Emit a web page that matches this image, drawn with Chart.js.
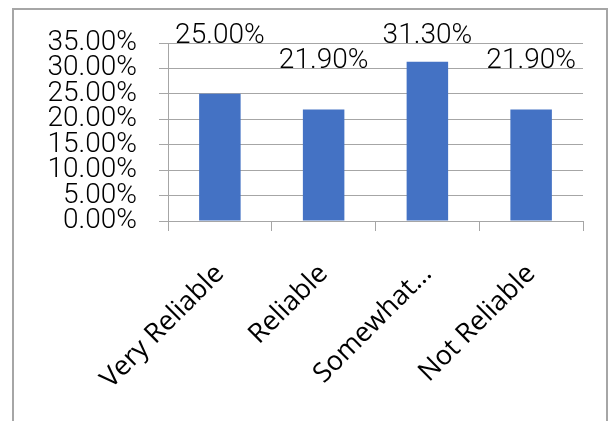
<!DOCTYPE html>
<html>
<head>
<meta charset="utf-8">
<script src="https://cdn.jsdelivr.net/npm/chart.js@4/dist/chart.umd.min.js"></script>
<style>
  html, body { margin: 0; padding: 0; background: #ffffff; }
  #frame { position: absolute; left: 12px; top: 8px; width: 592px; height: 500px; border: 2px solid #a6a6a6; }
  #wrap { position: absolute; left: 0; top: 0; width: 611px; height: 421px; }
</style>
</head>
<body>
<div id="frame"></div>
<div id="wrap"><canvas id="c" width="611" height="421"></canvas></div>
<script>
const categories = ['Very Reliable', 'Reliable', 'Somewhat\u2026', 'Not Reliable'];
const values = [25.0, 21.9, 31.3, 21.9];
const valueLabels = ['25.00%', '21.90%', '31.30%', '21.90%'];
const yMin = 0;
const yMax = 35;
const yStep = 5;

const numFont = { family: "Roboto, 'Liberation Sans', sans-serif", size: 28, weight: 300 };
const catFont = { family: "'Open Sans', sans-serif", size: 27 };
const gridColor = '#a6a6a6';

const dataLabelPlugin = {
  id: 'dataLabels',
  afterDatasetsDraw(chart) {
    const ctx = chart.ctx;
    const meta = chart.getDatasetMeta(0);
    const top = chart.chartArea.top;
    ctx.save();
    ctx.font = numFont.weight + ' ' + numFont.size + 'px ' + numFont.family;
    ctx.fillStyle = '#000';
    ctx.textAlign = 'center';
    ctx.textBaseline = 'alphabetic';
    meta.data.forEach((bar, i) => {
      let base = bar.y - 42;
      if (base - 20 < top) base = top;
      ctx.fillText(valueLabels[i], bar.x, base);
    });
    ctx.restore();
  }
};

new Chart(document.getElementById('c'), {
  type: 'bar',
  data: {
    labels: categories,
    datasets: [{
      data: values,
      backgroundColor: '#4472c4',
      borderWidth: 0,
      categoryPercentage: 1.0,
      barPercentage: 0.4
    }]
  },
  options: {
    responsive: false,
    animation: false,
    events: [],
    layout: { padding: { top: 43, right: 28, left: 0, bottom: 0 } },
    plugins: { legend: { display: false }, tooltip: { enabled: false } },
    scales: {
      x: {
        offset: true,
        grid: { offset: true, drawOnChartArea: false, drawTicks: true, tickLength: 10, color: gridColor, lineWidth: 1 },
        border: { display: true, color: gridColor },
        ticks: {
          autoSkip: false, minRotation: 45, maxRotation: 45,
          color: '#000', font: catFont, padding: 27
        },
        afterFit(scale) { scale.height = 200; }
      },
      y: {
        min: yMin, max: yMax,
        ticks: {
          stepSize: yStep, autoSkip: false, color: '#000', font: numFont, padding: 22,
          callback: v => v.toFixed(2) + '%'
        },
        grid: { color: gridColor, lineWidth: 1, tickLength: 9, drawTicks: true },
        border: { display: true, color: gridColor },
        afterFit(scale) { scale.width = 168; }
      }
    }
  },
  plugins: [dataLabelPlugin]
});
</script>
</body>
</html>
